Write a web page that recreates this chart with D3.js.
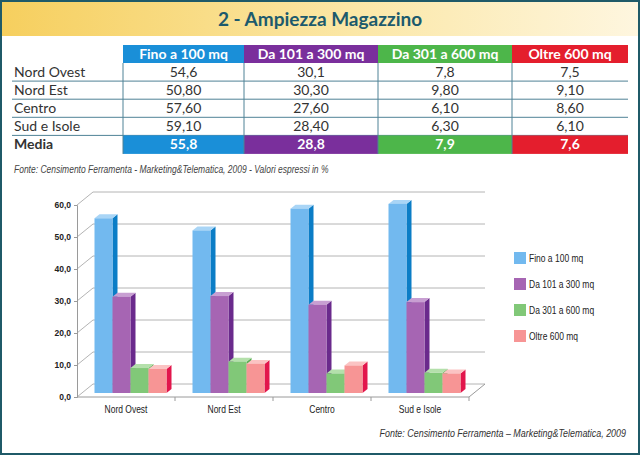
<!DOCTYPE html>
<html>
<head>
<meta charset="utf-8">
<script src="https://cdn.jsdelivr.net/npm/d3@7/dist/d3.min.js"></script>
<style>
  html, body { margin: 0; padding: 0; background: #fff; }
  svg { display: block; }
  .narrow { font-family: "Liberation Sans", Arial, sans-serif; }
</style>
</head>
<body>
<svg id="chart" width="640" height="455"></svg>
<script>
// ---------- DATA ----------
const title = "2 - Ampiezza Magazzino";
const categories = ["Nord Ovest", "Nord Est", "Centro", "Sud e Isole"];
const seriesNames = ["Fino a 100 mq", "Da 101 a 300 mq", "Da 301 a 600 mq", "Oltre 600 mq"];
const legendNames = ["Fino a 100 mq", "Da 101 a 300 mq", "Da 301 a 600 mq", "Oltre 600 mq"];
const fino100 = [54.6, 50.8, 57.6, 59.1];
const da101a300 = [30.1, 30.3, 27.6, 28.4];
const da301a600 = [7.8, 9.8, 6.1, 6.3];
const oltre600 = [7.5, 9.1, 8.6, 6.1];
const media = [55.8, 28.8, 7.9, 7.6];
const tableDecimals = [1, 2, 2, 2];   // decimals shown in table per region row
const yTicks = [0, 10, 20, 30, 40, 50, 60];
const sourceTable = "Fonte: Censimento Ferramenta - Marketing&Telematica, 2009 - Valori espressi in %";
const sourceChart = "Fonte: Censimento Ferramenta \u2013 Marketing&Telematica, 2009";

const seriesValues = [fino100, da101a300, da301a600, oltre600];

// ---------- STYLE ----------
const headColors = ["#1a8fd8", "#7a2f9c", "#4db64a", "#e41e2d"];
const frontColors = ["#72b9ef", "#a665b3", "#81c878", "#f79595"];
const sideColors  = ["#0b7dc6", "#6a2a8c", "#58ad52", "#e2164c"];
const topColors   = ["#a9d5f6", "#c89fd2", "#b4e0ab", "#fbc3c3"];
const condense = 0.85;

const svg = d3.select("#chart");
const fmt = (v, dec) => d3.format("." + dec + "f")(v).replace(".", ",");
function narrowText(parent, x, y, str) {
  return parent.append("text").attr("class", "narrow")
    .attr("transform", `translate(${x},${y}) scale(${condense},1)`).text(str);
}

// ---------- FRAME & TITLE ----------
const defs = svg.append("defs");
const grad = defs.append("linearGradient").attr("id", "tg").attr("x1", "0").attr("x2", "1").attr("y1", "0").attr("y2", "0");
grad.append("stop").attr("offset", "0").attr("stop-color", "#f6cf5e");
grad.append("stop").attr("offset", "0.55").attr("stop-color", "#fbe7a6");
grad.append("stop").attr("offset", "1").attr("stop-color", "#fef6df");

svg.append("rect").attr("x", 1).attr("y", 1).attr("width", 638).attr("height", 453)
  .attr("fill", "#fff").attr("stroke", "#1f5a68").attr("stroke-width", 2);
svg.append("rect").attr("x", 2).attr("y", 2).attr("width", 636).attr("height", 34).attr("fill", "url(#tg)");
svg.append("text").attr("x", 320).attr("y", 26).attr("text-anchor", "middle")
  .attr("font-family", "Lato, 'Open Sans', sans-serif").attr("font-weight", "bold")
  .attr("font-size", 19).attr("fill", "#1c5a6d").text(title);

// ---------- TABLE ----------
const colEdges = [12, 123, 244, 378, 512, 628];
const headerTop = 45, headerH = 18;
const rowH = 18.1;
const tableFont = "Lato, 'Open Sans', sans-serif";
const lineColor = "#4f8296";

const tbl = svg.append("g");
seriesNames.forEach((s, i) => {
  tbl.append("rect").attr("x", colEdges[i + 1]).attr("y", headerTop)
    .attr("width", colEdges[i + 2] - colEdges[i + 1]).attr("height", headerH).attr("fill", headColors[i]);
  tbl.append("text").attr("x", (colEdges[i + 1] + colEdges[i + 2]) / 2).attr("y", headerTop + 14)
    .attr("text-anchor", "middle").attr("font-family", tableFont).attr("font-weight", "bold")
    .attr("font-size", 14).attr("fill", "#fff").text(s);
});

const rowTop = headerTop + headerH;
categories.forEach((c, r) => {
  const y0 = rowTop + r * rowH;
  tbl.append("text").attr("x", 14).attr("y", y0 + 14).attr("font-family", tableFont)
    .attr("font-size", 14).attr("fill", "#333").text(c);
  seriesValues.forEach((vals, i) => {
    tbl.append("text").attr("x", (colEdges[i + 1] + colEdges[i + 2]) / 2).attr("y", y0 + 14)
      .attr("text-anchor", "middle").attr("font-family", tableFont)
      .attr("font-size", 14).attr("fill", "#333").text(fmt(vals[r], tableDecimals[r]));
  });
  tbl.append("line").attr("x1", colEdges[0]).attr("x2", colEdges[5])
    .attr("y1", y0 + rowH).attr("y2", y0 + rowH).attr("stroke", lineColor).attr("stroke-width", 1);
});
const mediaTop = rowTop + categories.length * rowH;
const mediaH = 18.5;
media.forEach((v, i) => {
  tbl.append("rect").attr("x", colEdges[i + 1]).attr("y", mediaTop)
    .attr("width", colEdges[i + 2] - colEdges[i + 1]).attr("height", mediaH).attr("fill", headColors[i]);
  tbl.append("text").attr("x", (colEdges[i + 1] + colEdges[i + 2]) / 2).attr("y", mediaTop + 14)
    .attr("text-anchor", "middle").attr("font-family", tableFont).attr("font-weight", "bold")
    .attr("font-size", 14).attr("fill", "#fff").text(fmt(v, 1));
});
tbl.append("text").attr("x", 14).attr("y", mediaTop + 14).attr("font-family", tableFont)
  .attr("font-weight", "bold").attr("font-size", 14).attr("fill", "#333").text("Media");
for (let i = 1; i <= 4; i++) {
  tbl.append("line").attr("x1", colEdges[i]).attr("x2", colEdges[i])
    .attr("y1", rowTop).attr("y2", mediaTop + mediaH).attr("stroke", lineColor).attr("stroke-width", 1);
}
narrowText(svg, 14, 173, sourceTable)
  .attr("font-style", "italic").attr("font-size", 10).attr("fill", "#444");

// ---------- 3D BAR CHART ----------
const x = d3.scaleBand().domain(categories).range([77, 469]).paddingInner(0).paddingOuter(0);
const y = d3.scaleLinear().domain([0, 60]).range([397, 205]);
const groupW = 72;
const xs = d3.scaleBand().domain(seriesNames).range([0, groupW]);
const depth = { dx: 16, dy: -13 };
const barD1 = { dx: 4.5, dy: -4 };
const barD2 = { dx: 9.5, dy: -8 };

const chart = svg.append("g");
const gridColor = "#b4b4b4";

// back-wall gridlines and left-wall diagonals
yTicks.forEach(t => {
  chart.append("line").attr("x1", x.range()[0] + depth.dx).attr("x2", x.range()[1] + depth.dx)
    .attr("y1", y(t) + depth.dy).attr("y2", y(t) + depth.dy).attr("stroke", gridColor).attr("stroke-width", 1);
  chart.append("line").attr("x1", x.range()[0]).attr("x2", x.range()[0] + depth.dx)
    .attr("y1", y(t)).attr("y2", y(t) + depth.dy).attr("stroke", gridColor).attr("stroke-width", 1);
});
// floor front and right edges
chart.append("line").attr("x1", x.range()[0]).attr("x2", x.range()[1])
  .attr("y1", y(0)).attr("y2", y(0)).attr("stroke", "#9a9a9a").attr("stroke-width", 1);
chart.append("line").attr("x1", x.range()[1]).attr("x2", x.range()[1] + depth.dx)
  .attr("y1", y(0)).attr("y2", y(0) + depth.dy).attr("stroke", "#9a9a9a").attr("stroke-width", 1);
// category boundary ticks
categories.forEach(c => {
  const xe = x(c) + x.bandwidth();
  chart.append("line").attr("x1", xe).attr("x2", xe).attr("y1", y(0)).attr("y2", y(0) + 4)
    .attr("stroke", "#9a9a9a").attr("stroke-width", 1);
});

// y axis
const yAxis = d3.axisLeft(y).tickValues(yTicks).tickSize(3).tickPadding(3)
  .tickFormat(d => fmt(d, 1));
const ya = chart.append("g").attr("transform", `translate(${x.range()[0]},0)`).call(yAxis);
ya.selectAll("path, line").attr("stroke", "#9a9a9a");
ya.selectAll("text").attr("font-family", "'Liberation Sans', Arial, sans-serif")
  .attr("font-size", 8.5).attr("font-weight", "bold").attr("fill", "#222");

// bars
categories.forEach((c, ci) => {
  const gx = x(c) + (x.bandwidth() - groupW) / 2;
  seriesNames.forEach((s, si) => {
    const v = seriesValues[si][ci];
    const x0 = gx + xs(s), x1 = x0 + xs.bandwidth();
    const yt = y(v), yb = y(0);
    chart.append("polygon").attr("points", [
      [x1 + barD1.dx, yt + barD1.dy], [x1 + barD2.dx, yt + barD2.dy],
      [x1 + barD2.dx, yb + barD2.dy], [x1 + barD1.dx, yb + barD1.dy]].map(p => p.join(",")).join(" "))
      .attr("fill", sideColors[si]);
    chart.append("polygon").attr("points", [
      [x0 + barD1.dx, yt + barD1.dy], [x1 + barD1.dx, yt + barD1.dy],
      [x1 + barD2.dx, yt + barD2.dy], [x0 + barD2.dx, yt + barD2.dy]].map(p => p.join(",")).join(" "))
      .attr("fill", topColors[si]);
    chart.append("rect").attr("x", x0 + barD1.dx).attr("y", yt + barD1.dy)
      .attr("width", x1 - x0).attr("height", yb - yt).attr("fill", frontColors[si]);
  });
  narrowText(chart, x(c) + x.bandwidth() / 2, 413, c)
    .attr("text-anchor", "middle").attr("font-size", 10).attr("fill", "#222");
});

// legend
const legendY = d3.scalePoint().domain(legendNames).range([258, 336]);
legendNames.forEach((n, i) => {
  svg.append("rect").attr("x", 514).attr("y", legendY(n) - 6).attr("width", 12).attr("height", 12)
    .attr("fill", frontColors[i]);
  narrowText(svg, 529, legendY(n) + 3.5, n).attr("font-size", 10).attr("fill", "#222");
});

narrowText(svg, 626, 437, sourceChart).attr("text-anchor", "end")
  .attr("font-style", "italic").attr("font-size", 10.5).attr("fill", "#333");
</script>
</body>
</html>
